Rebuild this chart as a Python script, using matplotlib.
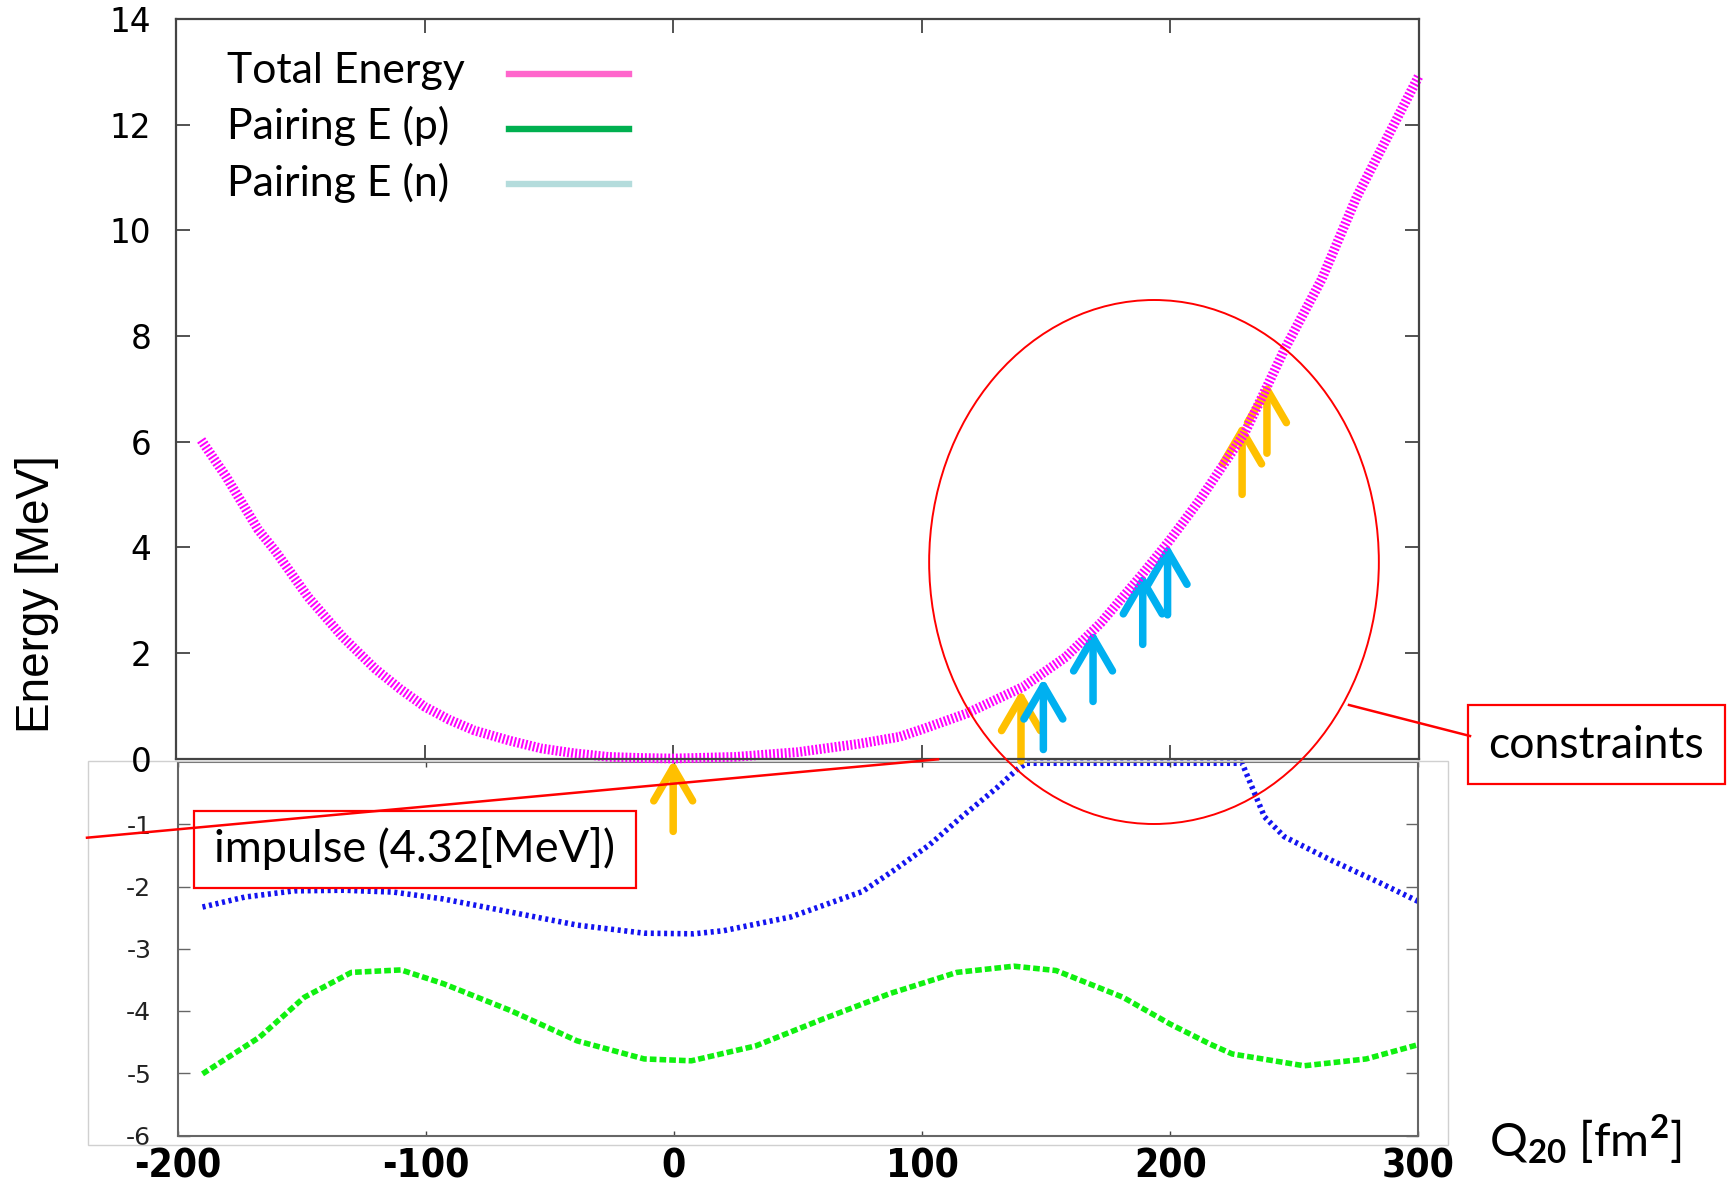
import matplotlib
matplotlib.use("Agg")
import matplotlib.pyplot as plt
from matplotlib import font_manager as fm
from matplotlib.patches import Ellipse, Rectangle, FancyArrowPatch, ArrowStyle
from matplotlib.lines import Line2D

plt.rcParams['axes.unicode_minus'] = False
plt.rcParams['lines.scale_dashes'] = False
plt.rcParams['mathtext.fontset'] = 'custom'
plt.rcParams['mathtext.rm'] = 'Lato'
plt.rcParams['mathtext.bf'] = 'Lato:bold'

# total energy curve (MeV) vs Q20 (fm^2)
q_total = [-190, -180, -167, -160, -147, -133, -120, -110, -100, -90, -80, -66, -53, -40, -26, -13,
           0, 25, 50, 75, 91, 100, 118, 141, 158, 172, 189, 200, 212, 230, 239, 246, 261, 275, 300]
e_total = [6.03, 5.34, 4.33, 3.92, 3.06, 2.30, 1.70, 1.32, 0.98, 0.73, 0.53, 0.34, 0.19, 0.10, 0.03,
           0.01, 0.0, 0.03, 0.12, 0.28, 0.41, 0.55, 0.85, 1.36, 1.92, 2.56, 3.50, 4.14, 4.90, 6.16,
           7.04, 7.74, 9.07, 10.62, 12.91]

# pairing energies (lower panel)
q_n = [-190, -173, -153, -133, -113, -93, -66, -39, -12, 8, 20, 47, 76, 89, 103, 116, 130,
       138, 142, 229, 234, 238, 246, 265, 285, 300]
e_n = [-2.33, -2.17, -2.07, -2.06, -2.09, -2.20, -2.41, -2.62, -2.75, -2.76, -2.71, -2.49, -2.08,
       -1.73, -1.33, -0.88, -0.42, -0.13, -0.02, -0.02, -0.5, -0.88, -1.2, -1.58, -1.95, -2.24]
q_p = [-190, -167, -149, -130, -110, -93, -66, -39, -12, 7, 33, 60, 87, 114, 137, 154, 171,
       181, 200, 216, 225, 254, 279, 300]
e_p = [-5.01, -4.42, -3.78, -3.38, -3.34, -3.56, -3.99, -4.48, -4.77, -4.80, -4.56, -4.13, -3.72,
       -3.38, -3.28, -3.35, -3.62, -3.78, -4.21, -4.53, -4.69, -4.88, -4.77, -4.54]

# constraint arrows: position and tip energy
arrow_q_orange = [0, 140, 229, 239]
arrow_tip_orange = [0.0, 1.33, 6.38, 7.16]
arrow_q_blue = [149, 169, 189, 199]
arrow_tip_blue = [1.55, 2.46, 3.54, 4.10]
arrow_len = 1.38

legend_labels = ['Total Energy', 'Pairing E (p)', 'Pairing E (n)']
legend_colors = ['#ff66cc', '#00b050', '#b4dcdc']

xticks = [-200, -100, 0, 100, 200, 300]
yticks_top = [0, 2, 4, 6, 8, 10, 12, 14]
yticks_bot = [-6, -5, -4, -3, -2, -1]

W, H = 1727, 1195


def fx(x):
    return x / W


def fy(y):
    return 1 - y / H


# narrow font for the x tick labels, if one is installed
narrow = [f for f in fm.fontManager.ttflist
          if ('Narrow' in f.name or 'Condensed' in f.name
              or f.stretch in ('condensed', 'semi-condensed', 'extra-condensed'))
          and 'Mono' not in f.name and 'Serif' not in f.name]
narrow.sort(key=lambda f: (f.weight not in ('bold', 700), f.style != 'normal'))
if narrow:
    xfont = fm.FontProperties(fname=narrow[0].fname, size=28)
else:
    xfont = fm.FontProperties(family='Liberation Sans', weight='bold', size=28)

fig = plt.figure(figsize=(W / 100, H / 100), dpi=100)

# lower panel (pasted plot) with its light grey frame
fig.add_artist(Rectangle((fx(88), fy(1145)), fx(1448) - fx(88), fy(761) - fy(1145),
                         transform=fig.transFigure, fill=False, ec='#d0d0d0', lw=1))
axb = fig.add_axes([fx(177.7), fy(1135.5), fx(1418.3) - fx(177.7), fy(762) - fy(1135.5)])
axb.patch.set_visible(False)
axb.plot(q_n, e_n, color='#1414f0', lw=4.0, dashes=(2.2, 2.6), clip_on=False)
axb.plot(q_p, e_p, color='#10f010', lw=4.0, dashes=(4.8, 2.2), clip_on=False)
axb.set_xlim(-200, 300)
axb.set_ylim(-6, 0)
axb.set_xticks(xticks)
axb.set_yticks(yticks_bot)
axb.tick_params(axis='y', direction='in', length=8.5, width=1, color='#666', left=True, right=True,
                labelcolor='#222', pad=19)
axb.tick_params(axis='x', direction='in', length=3.5, width=1, color='#444', top=True, bottom=True,
                pad=9)
for lab in axb.get_yticklabels():
    lab.set_family('DejaVu Sans')
    lab.set_fontsize(18)
for lab in axb.get_xticklabels():
    lab.set_fontproperties(xfont)
for s in axb.spines.values():
    s.set_color('#666')
    s.set_linewidth(1.5)

# upper panel
axt = fig.add_axes([fx(176.3), fy(758.5), fx(1418.5) - fx(176.3), fy(19) - fy(758.5)])
axt.set_zorder(3)
axt.patch.set_visible(False)
axt.plot(q_total, e_total, color='#ff00ff', lw=7, dashes=(1.4, 1.4), clip_on=False)

head = ArrowStyle('->', head_length=1.2, head_width=0.7)
for qs, tips, col in [(arrow_q_orange, arrow_tip_orange, '#ffc000'),
                      (arrow_q_blue, arrow_tip_blue, '#00b0f0')]:
    for q, tip in zip(qs, tips):
        ar = FancyArrowPatch((q, tip - arrow_len), (q, tip - 0.03), arrowstyle=head,
                             mutation_scale=20, lw=5.4, color=col, shrinkA=0, shrinkB=0,
                             joinstyle='round', capstyle='round', clip_on=False)
        axt.add_patch(ar)

axt.set_xlim(-200, 300)
axt.set_ylim(0, 14)
axt.set_xticks(xticks)
axt.set_yticks(yticks_top)
axt.tick_params(direction='in', length=10, width=1.3, color='#444', top=True, right=True,
                labelbottom=False, pad=18)
for lab in axt.get_yticklabels():
    lab.set_family('DejaVu Sans')
    lab.set_fontsize(23.5)
for s in axt.spines.values():
    s.set_color('#444')
    s.set_linewidth(1.6)

fig.text(fx(37), fy(594), 'Energy [MeV]', rotation=90, ha='center', va='center',
         family='Liberation Sans', fontsize=33)
fig.text(fx(1489), fy(1157), r'Q$_{\mathbf{20}}$ [fm$^{\mathbf{2}}$]', family='Lato',
         fontsize=34, ha='left', va='baseline')

# legend drawn by hand (text left, swatch right)
for i, (lab, col) in enumerate(zip(legend_labels, legend_colors)):
    fig.text(fx(227), fy(83 + 56.5 * i), lab, family='Lato', fontsize=30.8, va='baseline')
    fig.add_artist(Line2D([fx(509), fx(629)], [fy(74 + 54.8 * i)] * 2, color=col, lw=4.6,
                          transform=fig.transFigure))

# annotations
fig.add_artist(Ellipse((fx(1154), fy(562)), fx(449.7), 524 / H, transform=fig.transFigure,
                       fill=False, ec='red', lw=1.4, zorder=5))
fig.add_artist(Line2D([fx(87), fx(938)], [fy(837.7), fy(759.3)], color='red', lw=1.8,
                      transform=fig.transFigure, zorder=5))
fig.add_artist(Line2D([fx(1349), fx(1470)], [fy(705), fy(736)], color='red', lw=1.8,
                      transform=fig.transFigure, zorder=5))
fig.add_artist(Rectangle((fx(193.8), fy(887.7)), fx(635.5) - fx(193.8), fy(810.6) - fy(887.7),
                         transform=fig.transFigure, fill=False, ec='red', lw=1.6, zorder=5))
fig.text(fx(414), fy(849), 'impulse (4.32[MeV])', family='Lato', fontsize=32.5,
         ha='center', va='center', zorder=6)
fig.add_artist(Rectangle((fx(1468), fy(784.2)), fx(1724.5) - fx(1468), fy(704.9) - fy(784.2),
                         transform=fig.transFigure, fill=False, ec='red', lw=1.6, zorder=5))
fig.text(fx(1596), fy(745), 'constraints', family='Lato', fontsize=32,
         ha='center', va='center', zorder=6)

fig.savefig('out.png', dpi=100)
